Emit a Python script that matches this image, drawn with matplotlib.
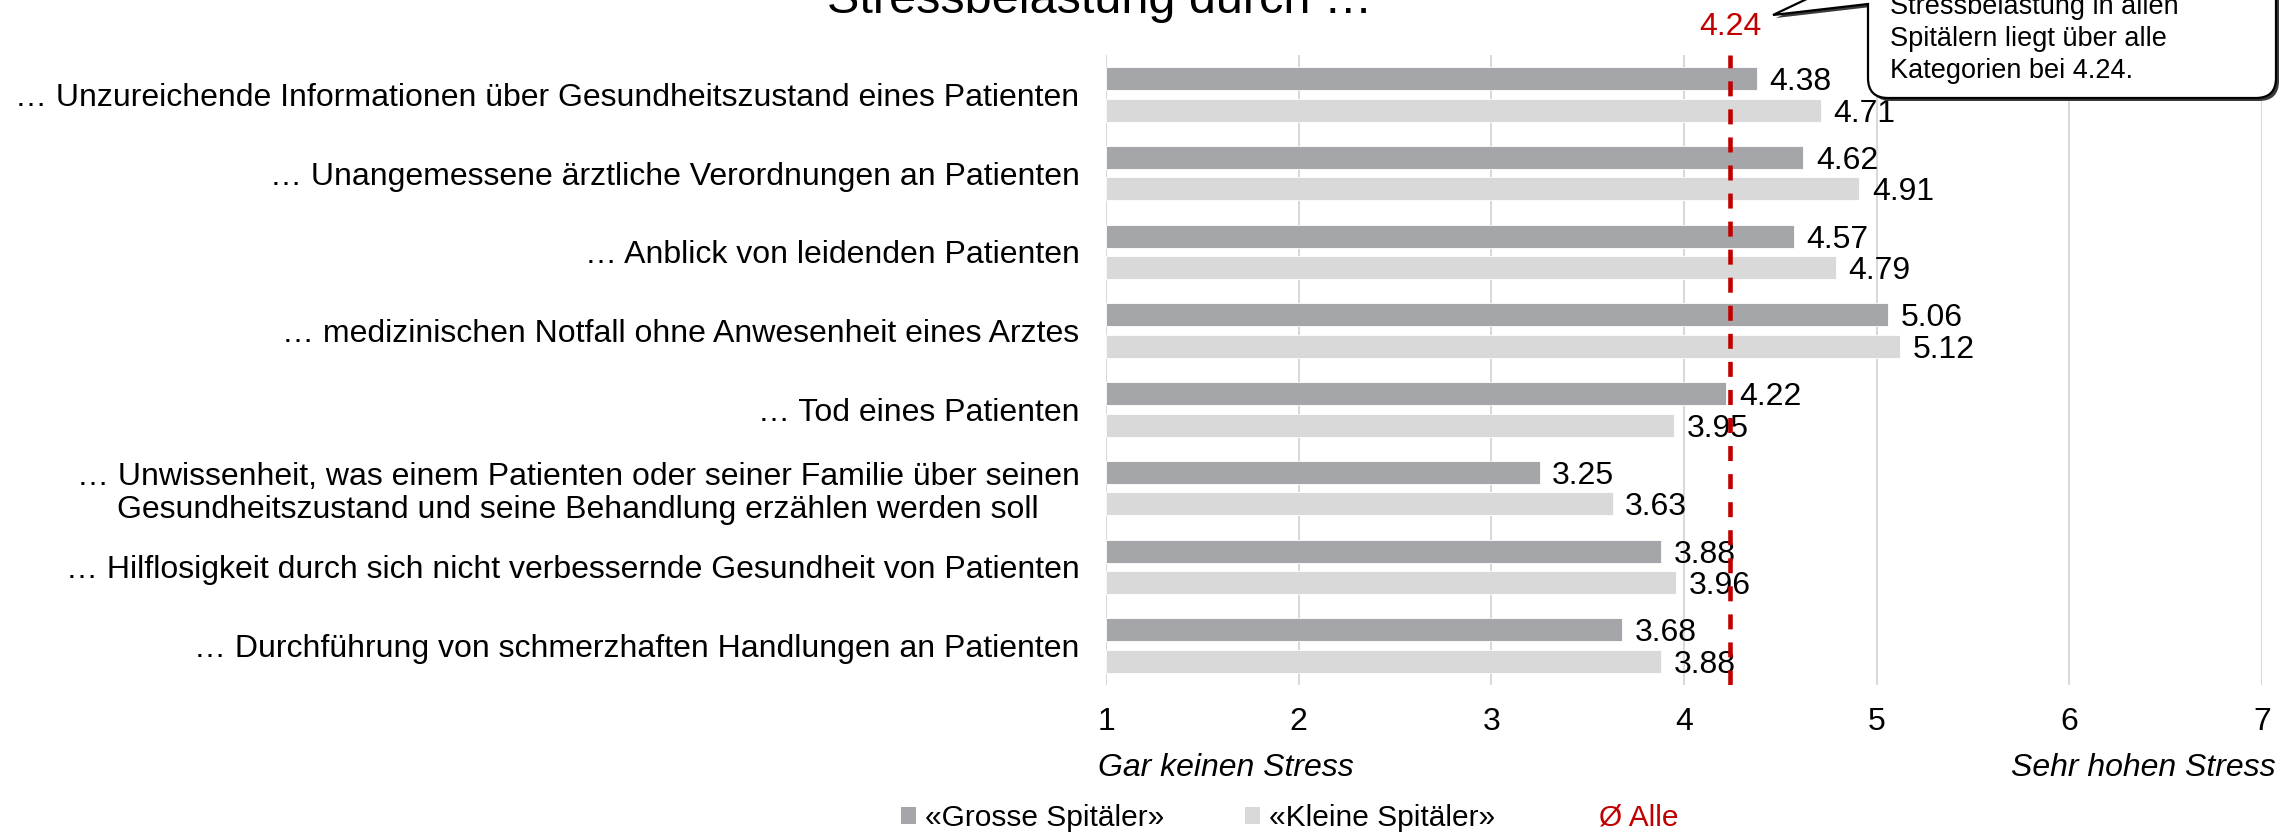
import numpy as np
import matplotlib
matplotlib.use("Agg")
import matplotlib.pyplot as plt
from matplotlib.patches import Patch, PathPatch
from matplotlib.path import Path

plt.rcParams['font.family'] = ['Liberation Sans', 'DejaVu Sans']
plt.rcParams['lines.scale_dashes'] = False

# -----------------------------
# DATA
# -----------------------------
categories = [
    "… Unzureichende Informationen über Gesundheitszustand eines Patienten",
    "… Unangemessene ärztliche Verordnungen an Patienten",
    "… Anblick von leidenden Patienten",
    "… medizinischen Notfall ohne Anwesenheit eines Arztes",
    "… Tod eines Patienten",
    "… Unwissenheit, was einem Patienten oder seiner Familie über seinen\n"
    "Gesundheitszustand und seine Behandlung erzählen werden soll",
    "… Hilflosigkeit durch sich nicht verbessernde Gesundheit von Patienten",
    "… Durchführung von schmerzhaften Handlungen an Patienten",
]
grosse = [4.38, 4.62, 4.57, 5.06, 4.22, 3.25, 3.88, 3.68]
kleine = [4.71, 4.91, 4.79, 5.12, 3.95, 3.63, 3.96, 3.88]
avg_all = 4.24

series_labels = ["«Grosse Spitäler»", "«Kleine Spitäler»", "Ø Alle"]
x_ticks = [1, 2, 3, 4, 5, 6, 7]
scale_low = "Gar keinen Stress"
scale_high = "Sehr hohen Stress"
title = "Stressbelastung durch …"
callout_lines = ["Stressbelastung in allen",
                 "Spitälern liegt über alle",
                 f"Kategorien bei {avg_all:.2f}."]

# -----------------------------
# STYLE
# -----------------------------
W, H = 2283, 832
DARK = "#A5A6AA"
LIGHT = "#D9D9D9"
RED = "#C00000"
GRID = "#D9D9D9"
FS = 23


def fig_xy(px, py):
    # top-down pixel coords -> figure fraction
    return px / W, 1 - py / H


fig = plt.figure(figsize=(W / 100, H / 100), dpi=100)
ax = fig.add_axes([1106 / W, 1 - 685 / H, 1156 / W, 630 / H])

y = np.arange(len(categories))
bh = 0.29
off = 0.2

ax.barh(y - off, [g - 1 for g in grosse], left=1, height=bh, color=DARK,
        edgecolor="white", linewidth=0.6, zorder=2)
ax.barh(y + off, [k - 1 for k in kleine], left=1, height=bh, color=LIGHT,
        edgecolor="white", linewidth=0.6, zorder=2)

for i in range(len(categories)):
    ax.annotate(f"{grosse[i]:.2f}", (grosse[i], y[i] - off), xytext=(9, 0),
                textcoords="offset points", ha="left", va="center_baseline",
                fontsize=FS, zorder=3)
    ax.annotate(f"{kleine[i]:.2f}", (kleine[i], y[i] + off), xytext=(9, 0),
                textcoords="offset points", ha="left", va="center_baseline",
                fontsize=FS, zorder=3)

# average line
ax.axvline(avg_all, color=RED, lw=3.3, dashes=(10.8, 9.4), zorder=5)
ax.annotate(f"{avg_all:.2f}", (avg_all, H - 35), xycoords=("data", "figure pixels"),
            ha="center", va="baseline", fontsize=FS, color=RED)

ax.set_xlim(1, 7)
ax.set_ylim(len(categories) - 0.5, -0.5)
ax.set_xticks(x_ticks)
ax.set_xticklabels([str(t) for t in x_ticks])
ax.set_yticks(y)
ax.set_yticklabels(categories, multialignment="center", linespacing=1.15)
ax.tick_params(axis="x", length=0, pad=16, labelsize=FS)
ax.tick_params(axis="y", length=0, pad=19, labelsize=FS)
ax.grid(axis="x", color=GRID, lw=1.5)
ax.set_axisbelow(True)
for s in ax.spines.values():
    s.set_visible(False)

# scale ends
ax.annotate(scale_low, (1, H - 776), xycoords=("data", "figure pixels"),
            xytext=(-6, 0), textcoords="offset points",
            ha="left", va="baseline", fontsize=FS, style="italic")
ax.annotate(scale_high, (7, H - 776), xycoords=("data", "figure pixels"),
            xytext=(10, 0), textcoords="offset points",
            ha="right", va="baseline", fontsize=FS, style="italic")

# title (cut at top)
fig.text(*fig_xy(1100, 13), title, ha="center", va="baseline", fontsize=35)

# callout box with tail
L, R, B, T, r = 1868, 2276, 98, -140, 20
pts = [(L, -30), (1773, 15), (L, 4), (L, B - r), (L, B), (L + r, B),
       (R - r, B), (R, B), (R, B - r), (R, T), (L, T), (L, -30)]
codes = [Path.MOVETO, Path.LINETO, Path.LINETO, Path.LINETO, Path.CURVE3,
         Path.CURVE3, Path.LINETO, Path.CURVE3, Path.CURVE3, Path.LINETO,
         Path.LINETO, Path.CLOSEPOLY]
shadow = Path([fig_xy(px + 3, py + 3) for px, py in pts], codes)
box = Path([fig_xy(px, py) for px, py in pts], codes)
fig.add_artist(PathPatch(shadow, transform=fig.transFigure, facecolor="#3a3a3a",
                         edgecolor="none"))
fig.add_artist(PathPatch(box, transform=fig.transFigure, facecolor="white",
                         edgecolor="black", lw=1.6))
for i, line in enumerate(callout_lines):
    fig.text(*fig_xy(1890, 78 - (len(callout_lines) - 1 - i) * 32), line,
             ha="left", va="baseline", fontsize=19.5)

# legend
handles = [Patch(facecolor=DARK, edgecolor="none"),
           Patch(facecolor=LIGHT, edgecolor="none"),
           Patch(facecolor="none", edgecolor="none")]
leg = fig.legend(handles, series_labels, loc="center",
                 bbox_to_anchor=fig_xy(1290, 818), ncol=3, frameon=False,
                 fontsize=21.5, handlelength=0.5, handleheight=0.5,
                 handletextpad=0.3, columnspacing=2.7)
leg.get_texts()[2].set_color(RED)

fig.savefig("out.png", dpi=100)
